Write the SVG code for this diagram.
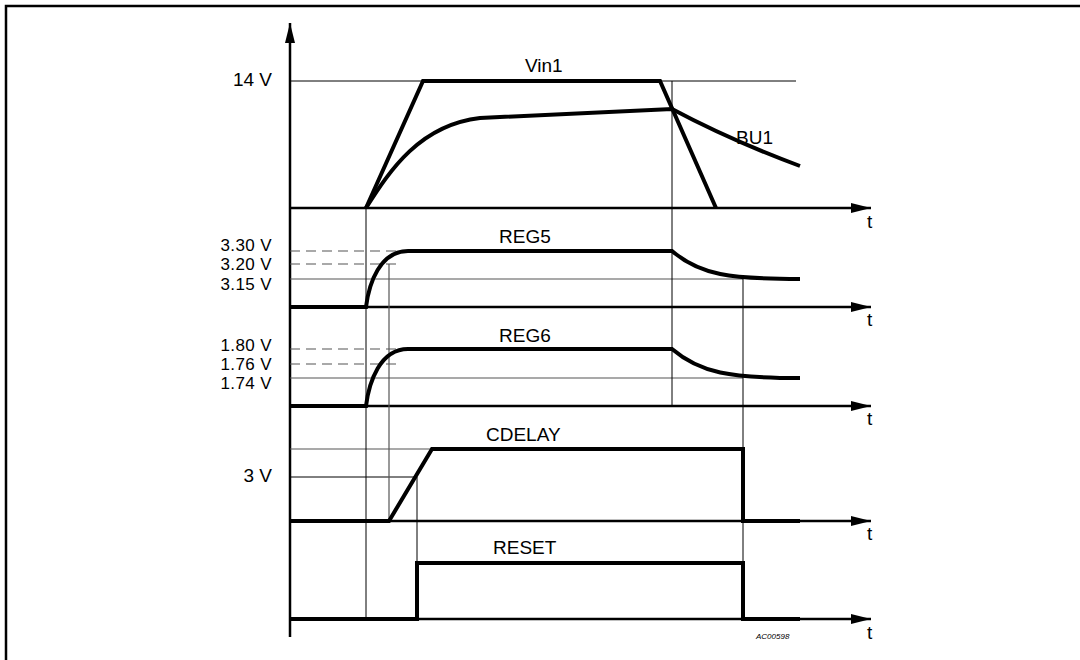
<svg xmlns="http://www.w3.org/2000/svg" width="1080" height="660" viewBox="0 0 1080 660">
<defs>
<style>
text{font-family:"Liberation Sans",Arial,sans-serif;font-size:19px;fill:#000}
.lbl{text-anchor:end}
.lv{text-anchor:end;font-size:17px;letter-spacing:0.4px}
.small{font-size:8px;font-style:italic}
.axis{stroke:#000;stroke-width:2.5;fill:none}
.sig{stroke:#000;stroke-width:4;fill:none;stroke-linejoin:miter}
.thin{stroke:#000;stroke-width:1;fill:none}
.gray{stroke:#555;stroke-width:1.2;fill:none}
.dash{stroke:#555;stroke-width:1.2;fill:none;stroke-dasharray:10 6}
</style>
<marker id="arr" viewBox="0 0 20 10" refX="20" refY="5" markerWidth="20" markerHeight="10" markerUnits="userSpaceOnUse" orient="auto">
<path d="M0,0 L20,5 L0,10 Z" fill="#000"/>
</marker>
</defs>
<rect width="1080" height="660" fill="#fff"/>
<g id="frame">
<path d="M6,660 L6,6 L1080,6" class="axis" stroke-width="2"/>
</g>
<g id="axes">
<line x1="290" y1="637" x2="290" y2="23" class="axis" marker-end="url(#arr)"/>
<line x1="290" y1="208" x2="871" y2="208" class="axis" marker-end="url(#arr)"/>
<line x1="290" y1="307" x2="871" y2="307" class="axis" marker-end="url(#arr)"/>
<line x1="290" y1="406" x2="871" y2="406" class="axis" marker-end="url(#arr)"/>
<line x1="290" y1="521" x2="871" y2="521" class="axis" marker-end="url(#arr)"/>
<line x1="290" y1="619" x2="871" y2="619" class="axis" marker-end="url(#arr)"/>
<text x="867" y="228">t</text>
<text x="867" y="326">t</text>
<text x="867" y="425">t</text>
<text x="867" y="540">t</text>
<text x="867" y="639">t</text>
</g>
<g id="guides">
<line x1="290" y1="81" x2="796" y2="81" class="thin"/>
<line x1="290" y1="251" x2="404" y2="251" class="dash"/>
<line x1="290" y1="264" x2="400" y2="264" class="dash"/>
<line x1="290" y1="279" x2="743" y2="279" class="gray"/>
<line x1="290" y1="349" x2="404" y2="349" class="dash"/>
<line x1="290" y1="364" x2="400" y2="364" class="dash"/>
<line x1="290" y1="378" x2="743" y2="378" class="gray"/>
<line x1="290" y1="449" x2="432" y2="449" class="gray"/>
<line x1="290" y1="477" x2="417" y2="477" class="thin"/>
<line x1="366" y1="208" x2="366" y2="619" class="thin"/>
<line x1="389" y1="264" x2="389" y2="521" class="gray"/>
<line x1="417" y1="477" x2="417" y2="619" class="thin"/>
<line x1="672" y1="81" x2="672" y2="406" class="thin"/>
<line x1="743" y1="279" x2="743" y2="619" class="thin"/>
</g>
<g id="vin1">
<path d="M366,208 L423,81 L660,81 L716,208" class="sig"/>
<text x="525" y="72">Vin1</text>
</g>
<g id="bu1">
<path d="M366,208 C390,170 420,125 480,118 L672,109 Q730,140 800,166" class="sig"/>
<text x="736" y="144">BU1</text>
</g>
<g id="reg5">
<path d="M290,307 L366,307 C369,283 380,251 408,251 L672,251 C700,275 730,279 800,279" class="sig"/>
<text x="499" y="243">REG5</text>
</g>
<g id="reg6">
<path d="M290,406 L366,406 C369,382 380,349 408,349 L672,349 C700,373 730,378 800,378" class="sig"/>
<text x="499" y="342">REG6</text>
</g>
<g id="cdelay">
<path d="M290,521 L389,521 L432,449 L743,449 L743,521 L800,521" class="sig"/>
<text x="486" y="441">CDELAY</text>
</g>
<g id="reset">
<path d="M290,619 L417,619 L417,563 L743,563 L743,619 L800,619" class="sig"/>
<text x="493" y="554">RESET</text>
</g>
<g id="labels">
<text x="272" y="86" class="lbl">14 V</text>
<text x="272" y="251" class="lv">3.30 V</text>
<text x="272" y="270" class="lv">3.20 V</text>
<text x="272" y="290" class="lv">3.15 V</text>
<text x="272" y="351" class="lv">1.80 V</text>
<text x="272" y="370" class="lv">1.76 V</text>
<text x="272" y="389" class="lv">1.74 V</text>
<text x="272" y="482" class="lbl">3 V</text>
<text x="756" y="639" class="small">AC00598</text>
</g>
</svg>
